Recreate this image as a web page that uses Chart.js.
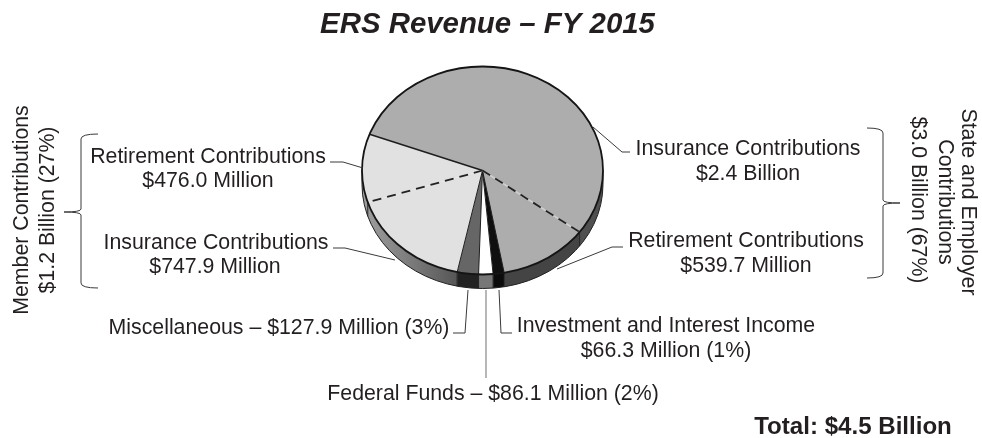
<!DOCTYPE html>
<html>
<head>
<meta charset="utf-8">
<title>ERS Revenue - FY 2015</title>
<script src="https://cdn.jsdelivr.net/npm/chart.js@4"></script>
<style>
  html, body { margin: 0; padding: 0; background: #fff; }
  #wrap { position: relative; width: 982px; height: 438px; }
</style>
</head>
<body>
<div id="wrap"><canvas id="pie"></canvas></div>
<script>
// Slices in $ million, clockwise from the upper left edge of the pie
const categories = ['Insurance Contributions', 'Retirement Contributions', 'Investment and Interest Income',
  'Federal Funds', 'Miscellaneous', 'Insurance Contributions', 'Retirement Contributions'];
const revenue = [2440, 539.7, 66.3, 86.1, 127.9, 747.9, 476.0];

const titleText = 'ERS Revenue \u2013 FY 2015';
const totalText = 'Total: $4.5 Billion';
const memberLines = ['Member Contributions', '$1.2 Billion (27%)'];
const employerLines = ['State and Employer', 'Contributions', '$3.0 Billion (67%)'];

// Colours of the top of each slice and of its rim
const topColors = ['#adadad', '#adadad', '#0f0f0f', '#ffffff', '#666666', '#e1e1e1', '#e1e1e1'];
const TEXT = '#231f20';
const LINE = '#3a3a3a';

const SQUASH = 104 / 120.5;   // pie is tilted, so it draws as an ellipse
const DEPTH = 14;

function sideColors(ctx) {
  const left = ctx.createLinearGradient(362, 0, 470, 0);
  left.addColorStop(0, '#a0a0a0');
  left.addColorStop(0.5, '#777777');
  left.addColorStop(1, '#4c4c4c');
  return ['#505050', '#444444', '#0c0c0c', '#777777', '#222222', left, left];
}

function polyline(ctx, pts) {
  ctx.beginPath();
  pts.forEach((p, i) => i ? ctx.lineTo(p[0], p[1]) : ctx.moveTo(p[0], p[1]));
  ctx.stroke();
}

// Curly bracket, tip points away from the labels
function brace(ctx, x, top, bottom, tipY, tipX, hookX) {
  ctx.beginPath();
  ctx.moveTo(hookX, top);
  ctx.quadraticCurveTo(x, top, x, top + 5);
  ctx.lineTo(x, tipY - 3);
  ctx.quadraticCurveTo(x, tipY, tipX, tipY);
  ctx.quadraticCurveTo(x, tipY, x, tipY + 3);
  ctx.lineTo(x, bottom - 5);
  ctx.quadraticCurveTo(x, bottom, hookX, bottom);
  ctx.stroke();
}

const pie3d = {
  id: 'pie3d',
  beforeDatasetDraw(chart) {
    const ctx = chart.ctx;
    const arcs = chart.getDatasetMeta(0).data;
    const cx = arcs[0].x, cy = arcs[0].y, rx = arcs[0].outerRadius, ry = rx * SQUASH;
    const sides = sideColors(ctx);

    // rim below the top face
    arcs.forEach((a, i) => {
      ctx.beginPath();
      ctx.ellipse(cx, cy + DEPTH, rx, ry, 0, a.startAngle, a.endAngle);
      ctx.ellipse(cx, cy, rx, ry, 0, a.endAngle, a.startAngle, true);
      ctx.closePath();
      ctx.fillStyle = sides[i];
      ctx.fill();
    });
    ctx.strokeStyle = '#222';
    ctx.lineWidth = 1;
    arcs.forEach(a => {
      const s = Math.sin(a.startAngle), c = Math.cos(a.startAngle);
      if (s > 0) polyline(ctx, [[cx + rx * c, cy + ry * s], [cx + rx * c, cy + ry * s + DEPTH]]);
    });
    ctx.beginPath();
    ctx.ellipse(cx, cy + DEPTH, rx, ry, 0, 0, Math.PI);
    ctx.stroke();
    polyline(ctx, [[cx + rx, cy], [cx + rx, cy + DEPTH]]);
    polyline(ctx, [[cx - rx, cy], [cx - rx, cy + DEPTH]]);

    // squash the library's arcs into the ellipse
    ctx.save();
    ctx.translate(cx, cy);
    ctx.scale(1, SQUASH);
    ctx.translate(-cx, -cy);
  },
  afterDatasetDraw(chart) {
    const ctx = chart.ctx;
    ctx.restore();
    const arcs = chart.getDatasetMeta(0).data;
    const cx = arcs[0].x, cy = arcs[0].y, rx = arcs[0].outerRadius, ry = rx * SQUASH;
    const edge = a => [cx + rx * Math.cos(a), cy + ry * Math.sin(a)];

    ctx.save();
    ctx.strokeStyle = '#1e1e1e';
    ctx.lineWidth = 1;
    [2, 3, 4, 5].forEach(i => polyline(ctx, [[cx, cy], edge(arcs[i].startAngle)]));
    ctx.lineWidth = 1.6;
    polyline(ctx, [[cx, cy], edge(arcs[0].startAngle)]);

    // dashed splits inside the two groups
    ctx.strokeStyle = '#cfcfcf';
    polyline(ctx, [[cx, cy], edge(arcs[1].startAngle)]);
    ctx.strokeStyle = '#222';
    ctx.lineWidth = 1.8;
    ctx.setLineDash([9, 6]);
    polyline(ctx, [[cx, cy], edge(arcs[1].startAngle)]);
    polyline(ctx, [[cx, cy], edge(arcs[6].startAngle)]);
    ctx.setLineDash([]);

    ctx.strokeStyle = '#151515';
    ctx.lineWidth = 1.8;
    ctx.beginPath();
    ctx.ellipse(cx, cy, rx, ry, 0, 0, Math.PI * 2);
    ctx.stroke();
    ctx.restore();
  },
  afterDraw(chart) {
    const ctx = chart.ctx;
    ctx.save();

    // leader lines
    ctx.strokeStyle = LINE;
    ctx.lineWidth = 1;
    polyline(ctx, [[593, 127], [622, 152], [630, 152]]);
    polyline(ctx, [[557, 269], [612, 247], [623, 247]]);
    polyline(ctx, [[330, 162], [343, 162], [363, 168]]);
    polyline(ctx, [[333, 248], [345, 248], [395, 260]]);
    polyline(ctx, [[468, 290], [465, 333], [453, 333]]);
    polyline(ctx, [[499, 290], [501, 333], [512, 333]]);
    ctx.strokeStyle = '#888888';
    ctx.lineWidth = 1.2;
    polyline(ctx, [[486, 290], [486, 378]]);

    ctx.strokeStyle = LINE;
    ctx.lineWidth = 1;
    brace(ctx, 81, 134, 288, 212, 64, 98);
    brace(ctx, 883, 128, 278, 203, 900, 867);

    ctx.fillStyle = TEXT;
    ctx.textBaseline = 'middle';
    ctx.textAlign = 'center';

    ctx.font = 'italic bold 29.4px "Liberation Sans"';
    ctx.fillText(titleText, 487.5, 25);

    ctx.font = '21.3px "Liberation Sans"';
    ctx.fillText(categories[6], 208, 157);
    ctx.fillText('$476.0 Million', 208, 181);
    ctx.fillText(categories[5], 216, 243);
    ctx.fillText('$747.9 Million', 215, 267);
    ctx.fillText(categories[0], 748, 149);
    ctx.fillText('$2.4 Billion', 748, 174);
    ctx.fillText(categories[1], 746, 241);
    ctx.fillText('$539.7 Million', 746, 266);
    ctx.fillText(categories[4] + ' \u2013 $127.9 Million (3%)', 279, 328);
    ctx.fillText(categories[2], 666, 326);
    ctx.fillText('$66.3 Million (1%)', 666, 351);
    ctx.fillText(categories[3] + ' \u2013 $86.1 Million (2%)', 493, 394);

    ctx.font = 'bold 24.1px "Liberation Sans"';
    ctx.fillText(totalText, 853, 427);

    // rotated group captions
    ctx.font = '21.3px "Liberation Sans"';
    [[22, 210], [48, 210]].forEach((p, i) => {
      ctx.save();
      ctx.translate(p[0], p[1]);
      ctx.rotate(-Math.PI / 2);
      ctx.fillText(memberLines[i], 0, 0);
      ctx.restore();
    });
    [[968, 202], [945, 202], [918, 200]].forEach((p, i) => {
      ctx.save();
      ctx.translate(p[0], p[1]);
      ctx.rotate(Math.PI / 2);
      ctx.fillText(employerLines[i], 0, 0);
      ctx.restore();
    });
    ctx.restore();
  }
};

new Chart(document.getElementById('pie').getContext('2d'), {
  type: 'pie',
  data: {
    labels: categories,
    datasets: [{
      data: revenue,
      backgroundColor: topColors,
      borderWidth: 0
    }]
  },
  options: {
    responsive: true,
    maintainAspectRatio: false,
    animation: false,
    radius: 120.5,
    rotation: 290.4,
    layout: { padding: { right: 17, bottom: 97 } },
    plugins: {
      legend: { display: false },
      tooltip: { enabled: false }
    }
  },
  plugins: [pie3d]
});
</script>
</body>
</html>
